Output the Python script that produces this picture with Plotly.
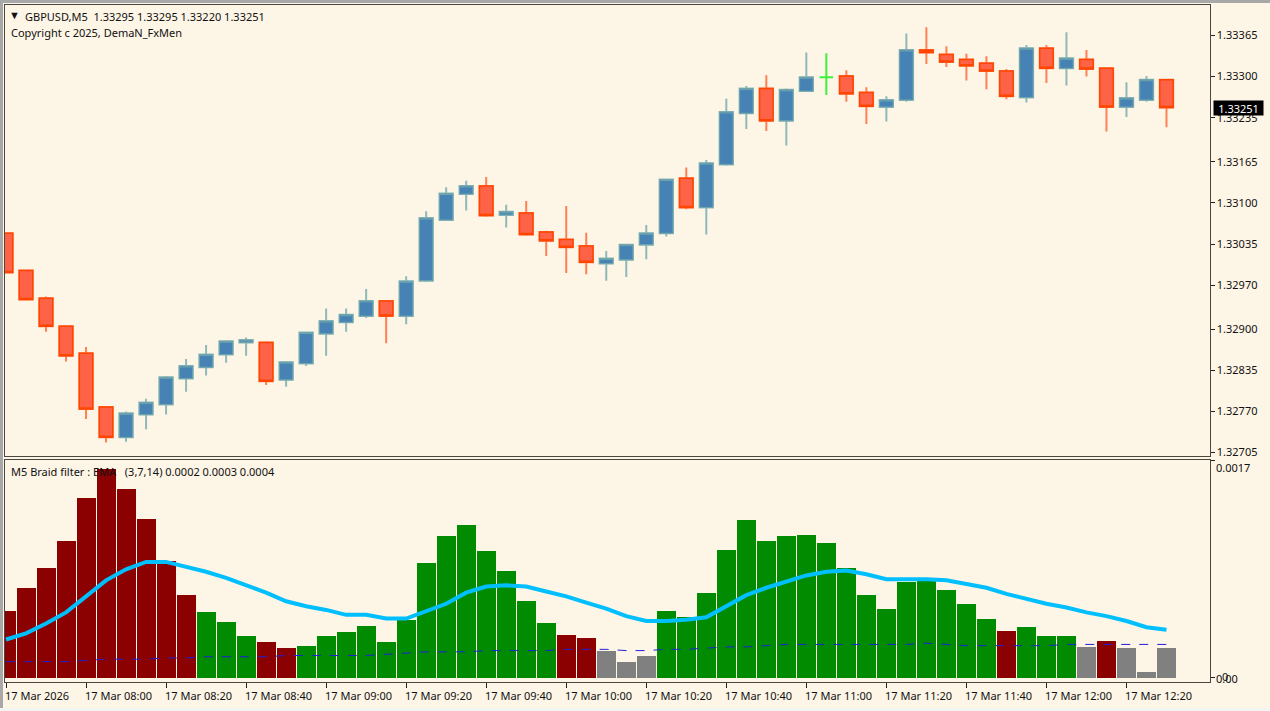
import pandas as pd
import plotly.graph_objects as go

FONT = "Noto Sans"
BG = "#FDF5E6"
W, H = 1270, 711

times = pd.date_range("2026-03-17 07:40", periods=59, freq="5min")

opens = [
    1.33052, 1.32993, 1.32949, 1.32905, 1.32862, 1.32777, 1.32729, 1.32765, 1.32781, 1.32822,
    1.32840, 1.32860, 1.32879, 1.32879, 1.32820, 1.32846, 1.32893, 1.32911, 1.32921, 1.32945,
    1.32921, 1.32977, 1.33073, 1.33114, 1.33127, 1.33081, 1.33084, 1.33054, 1.33042, 1.33032,
    1.33004, 1.33010, 1.33034, 1.33052, 1.33139, 1.33093, 1.33161, 1.33242, 1.33281, 1.33230,
    1.33277, 1.33299, 1.33301, 1.33275, 1.33252, 1.33263, 1.33342, 1.33335, 1.33327, 1.33321,
    1.33309, 1.33267, 1.33345, 1.33313, 1.33327, 1.33313, 1.33252, 1.33263, 1.33295,
]
closes = [
    1.32990, 1.32947, 1.32905, 1.32858, 1.32774, 1.32729, 1.32767, 1.32784, 1.32824, 1.32842,
    1.32860, 1.32881, 1.32883, 1.32818, 1.32848, 1.32895, 1.32913, 1.32923, 1.32945, 1.32921,
    1.32976, 1.33076, 1.33115, 1.33127, 1.33080, 1.33086, 1.33050, 1.33040, 1.33030, 1.33006,
    1.33012, 1.33034, 1.33052, 1.33137, 1.33093, 1.33163, 1.33244, 1.33281, 1.33230, 1.33279,
    1.33299, 1.33299, 1.33273, 1.33253, 1.33263, 1.33342, 1.33338, 1.33323, 1.33317, 1.33309,
    1.33269, 1.33345, 1.33313, 1.33329, 1.33312, 1.33252, 1.33266, 1.33295, 1.33251,
]
highs = [
    1.33052, 1.32993, 1.32952, 1.32906, 1.32872, 1.32778, 1.32770, 1.32790, 1.32826, 1.32853,
    1.32875, 1.32881, 1.32887, 1.32881, 1.32849, 1.32896, 1.32933, 1.32933, 1.32964, 1.32946,
    1.32984, 1.33087, 1.33125, 1.33135, 1.33141, 1.33097, 1.33103, 1.33056, 1.33095, 1.33053,
    1.33024, 1.33034, 1.33065, 1.33138, 1.33156, 1.33168, 1.33265, 1.33285, 1.33302, 1.33281,
    1.33338, 1.33337, 1.33310, 1.33283, 1.33269, 1.33368, 1.33378, 1.33348, 1.33336, 1.33332,
    1.33312, 1.33350, 1.33350, 1.33370, 1.33342, 1.33313, 1.33291, 1.33301, 1.33295,
]
lows = [
    1.32989, 1.32946, 1.32896, 1.32849, 1.32758, 1.32721, 1.32722, 1.32742, 1.32765, 1.32801,
    1.32827, 1.32847, 1.32858, 1.32812, 1.32809, 1.32842, 1.32858, 1.32896, 1.32918, 1.32878,
    1.32908, 1.32975, 1.33072, 1.33088, 1.33078, 1.33061, 1.33048, 1.33016, 1.32989, 1.32987,
    1.32977, 1.32983, 1.33011, 1.33047, 1.33090, 1.33050, 1.33159, 1.33217, 1.33214, 1.33191,
    1.33276, 1.33271, 1.33260, 1.33225, 1.33229, 1.33260, 1.33320, 1.33315, 1.33294, 1.33280,
    1.33264, 1.33259, 1.33290, 1.33286, 1.33300, 1.33213, 1.33236, 1.33260, 1.33220,
]

hist = [
    0.00054, 0.00073, 0.00089, 0.00111, 0.00146, 0.00169, 0.00153, 0.00129, 0.00095, 0.00067,
    0.00053, 0.00045, 0.00034, 0.00029, 0.00024, 0.00026, 0.00034, 0.00037, 0.00042, 0.00029,
    0.00047, 0.00093, 0.00115, 0.00124, 0.00103, 0.00087, 0.00062, 0.00044, 0.00035, 0.00032,
    0.00022, 0.00013, 0.00018, 0.00054, 0.00049, 0.00069, 0.00104, 0.00128, 0.00111, 0.00115,
    0.00116, 0.00109, 0.00089, 0.00067, 0.00056, 0.00078, 0.00079, 0.00071, 0.00060, 0.00048,
    0.00038, 0.00041, 0.00034, 0.00034, 0.00025, 0.00030, 0.00024, 0.00005, 0.00024,
]
hist_state = (
    ["down"] * 10 + ["up"] * 3 + ["down"] * 2 + ["up"] * 13 + ["down"] * 2 + ["flat"] * 3
    + ["up"] * 17 + ["down"] + ["up"] * 3 + ["flat"] + ["down"] + ["flat"] * 3
)
ema_line = [
    0.00031, 0.00036, 0.00044, 0.00053, 0.00066, 0.00079, 0.00088, 0.00094, 0.00094, 0.00090,
    0.00086, 0.00081, 0.00075, 0.00069, 0.00062, 0.00058, 0.00055, 0.00051, 0.00051, 0.00048,
    0.00048, 0.00054, 0.00060, 0.00069, 0.00074, 0.00075, 0.00074, 0.00070, 0.00066, 0.00061,
    0.00056, 0.00050, 0.00046, 0.00046, 0.00047, 0.00049, 0.00058, 0.00067, 0.00073, 0.00078,
    0.00083, 0.00086, 0.00087, 0.00084, 0.00080, 0.00080, 0.00080, 0.00079, 0.00076, 0.00073,
    0.00068, 0.00064, 0.00060, 0.00057, 0.00053, 0.00050, 0.00046, 0.00041, 0.00039,
]
filter_line = [
    0.00013, 0.00013, 0.00013, 0.00013, 0.00014, 0.00015, 0.00015, 0.00015, 0.00016, 0.00016,
    0.00017, 0.00017, 0.00017, 0.00017, 0.00018, 0.00018, 0.00018, 0.00018, 0.00018, 0.00019,
    0.00020, 0.00021, 0.00021, 0.00021, 0.00022, 0.00022, 0.00022, 0.00022, 0.00023, 0.00023,
    0.00023, 0.00022, 0.00022, 0.00023, 0.00023, 0.00024, 0.00025, 0.00025, 0.00026, 0.00027,
    0.00027, 0.00027, 0.00027, 0.00027, 0.00027, 0.00027, 0.00028, 0.00027, 0.00026, 0.00026,
    0.00026, 0.00026, 0.00026, 0.00027, 0.00027, 0.00027, 0.00027, 0.00027, 0.00027,
]

price_ticks = [1.33365, 1.33300, 1.33235, 1.33165, 1.33100, 1.33035, 1.32970, 1.32900, 1.32835, 1.32770, 1.32705]
time_labels = [
    "17 Mar 2026", "17 Mar 08:00", "17 Mar 08:20", "17 Mar 08:40", "17 Mar 09:00", "17 Mar 09:20",
    "17 Mar 09:40", "17 Mar 10:00", "17 Mar 10:20", "17 Mar 10:40", "17 Mar 11:00", "17 Mar 11:20",
    "17 Mar 11:40", "17 Mar 12:00", "17 Mar 12:20",
]
time_ticks = list(times[::4])

STATE_COLORS = {"down": "#8B0000", "up": "#008B00", "flat": "#808080"}

# the one doji gets its own colour, everything else goes in the main traces
doji = [i for i in range(len(times)) if opens[i] == closes[i]]
main = [i for i in range(len(times)) if opens[i] != closes[i]]


def pick(values, idx):
    return [values[i] for i in idx]


fig = go.Figure()

# wicks first, pale and a bit heavier
fig.add_trace(go.Candlestick(
    x=pick(times, main), open=pick(opens, main), high=pick(highs, main),
    low=pick(lows, main), close=pick(closes, main),
    increasing=dict(line=dict(color="#8DB9B9", width=2), fillcolor="#4682B4"),
    decreasing=dict(line=dict(color="#FF8055", width=2), fillcolor="#FF6347"),
    whiskerwidth=0, showlegend=False, xaxis="x", yaxis="y",
))
# bodies on top with a thin outline, so high and low collapse onto open and close
fig.add_trace(go.Candlestick(
    x=pick(times, main), open=pick(opens, main), close=pick(closes, main),
    high=[max(opens[i], closes[i]) for i in main],
    low=[min(opens[i], closes[i]) for i in main],
    increasing=dict(line=dict(color="#6FA5AE", width=1), fillcolor="#4682B4"),
    decreasing=dict(line=dict(color="#FF4500", width=1.5), fillcolor="#FF6347"),
    whiskerwidth=0, showlegend=False, xaxis="x", yaxis="y",
))
fig.add_trace(go.Candlestick(
    x=pick(times, doji), open=pick(opens, doji), high=pick(highs, doji),
    low=pick(lows, doji), close=pick(closes, doji),
    increasing=dict(line=dict(color="#3CF03C", width=2)),
    decreasing=dict(line=dict(color="#3CF03C", width=2)),
    whiskerwidth=0, showlegend=False, xaxis="x", yaxis="y",
))

fig.add_trace(go.Bar(
    x=times, y=hist, width=285000,
    marker=dict(color=[STATE_COLORS[s] for s in hist_state], line=dict(width=0)),
    showlegend=False, xaxis="x2", yaxis="y2",
))
fig.add_trace(go.Scatter(
    x=times, y=filter_line, mode="lines",
    line=dict(color="#2020D8", width=1, dash="dash"),
    showlegend=False, xaxis="x2", yaxis="y2",
))
fig.add_trace(go.Scatter(
    x=times, y=ema_line, mode="lines",
    line=dict(color="#00BFFF", width=4),
    showlegend=False, xaxis="x2", yaxis="y2",
))

x_range = ["2026-03-17 07:39:45", "2026-03-17 12:40:45"]
frame = dict(showline=True, linewidth=1.2, linecolor="#4A4640", mirror=True, showgrid=False, zeroline=False)
tickfont = dict(family=FONT, size=11, color="#111")

fig.update_layout(
    width=W, height=H,
    margin=dict(l=0, r=0, t=0, b=0, autoexpand=False),
    paper_bgcolor=BG, plot_bgcolor=BG,
    font=dict(family=FONT, size=11, color="#111"),
    showlegend=False, bargap=0, boxgap=0.33, boxgroupgap=0,
    xaxis=dict(
        domain=[5 / W, 1209.5 / W], range=x_range, type="date", anchor="y",
        rangeslider=dict(visible=False), showticklabels=False, ticks="", **frame,
    ),
    yaxis=dict(
        domain=[1 - 456 / H, 1 - 5 / H], range=[1.326995, 1.334133], anchor="x", side="right",
        tickmode="array", tickvals=price_ticks, ticktext=[f"{v:.5f}" for v in price_ticks],
        ticks="outside", ticklen=4, tickwidth=1, tickcolor="#222", tickfont=tickfont, **frame,
    ),
    xaxis2=dict(
        domain=[5 / W, 1209.5 / W], range=x_range, type="date", anchor="y2", matches="x",
        tickmode="array", tickvals=time_ticks, showticklabels=False,
        ticks="outside", ticklen=5, tickwidth=1, tickcolor="#222", **frame,
    ),
    yaxis2=dict(
        domain=[1 - 682 / H, 1 - 460 / H], range=[-0.000035, 0.001767], anchor="x2", side="right",
        tickmode="array", tickvals=[0, 0.00176], showticklabels=False,
        ticks="outside", ticklen=4, tickwidth=1, tickcolor="#222", **frame,
    ),
)


def note(text, px, py, **kw):
    fig.add_annotation(
        text=text, xref="paper", yref="paper", x=px / W, y=1 - py / H,
        xanchor="left", yanchor="middle", showarrow=False, borderpad=0,
        font=dict(family=FONT, size=11, color="#111"), **kw,
    )


note("\u25BC", 8, 15)
note("GBPUSD,M5\u00A0\u00A01.33295 1.33295 1.33220 1.33251", 24, 16)
note("Copyright c 2025, DemaN_FxMen", 10, 32)
note("M5 Braid filter : EMA\u00A0\u00A0\u00A0(3,7,14) 0.0002 0.0003 0.0004", 10, 471)
note("0.0017", 1215, 468)
note("0.00", 1215, 678)
note("0", 1221, 676)

for t, label in zip(time_ticks, time_labels):
    fig.add_annotation(
        text=label, xref="x2", yref="paper", x=t, y=1 - 695 / H, xshift=-2,
        xanchor="left", yanchor="middle", showarrow=False, borderpad=0,
        font=dict(family=FONT, size=11, color="#111"),
    )

# current price flag on the axis
fig.add_annotation(
    text=f"{closes[-1]:.5f}", xref="paper", yref="y", x=1213 / W, y=closes[-1],
    xanchor="left", yanchor="middle", showarrow=False, bgcolor="#000000",
    width=49, height=14, borderpad=0, align="center",
    font=dict(family=FONT, size=11, color="#FFFFFF"),
)

# window chrome around the chart
for x0, y0, x1, y1, color in [
    (0, 0, W, 3, "#A8A8A8"),
    (0, 0, 3, 708, "#A8A8A8"),
    (0, 708, W, H, "#F4F4F2"),
]:
    fig.add_shape(
        type="rect", xref="paper", yref="paper", layer="above",
        x0=x0 / W, x1=x1 / W, y0=1 - y0 / H, y1=1 - y1 / H,
        fillcolor=color, line=dict(width=0),
    )

fig.write_html(
    "out.html",
    config=dict(displayModeBar=False),
    post_script="document.body.style.margin='0';document.documentElement.style.overflow='hidden';",
)
